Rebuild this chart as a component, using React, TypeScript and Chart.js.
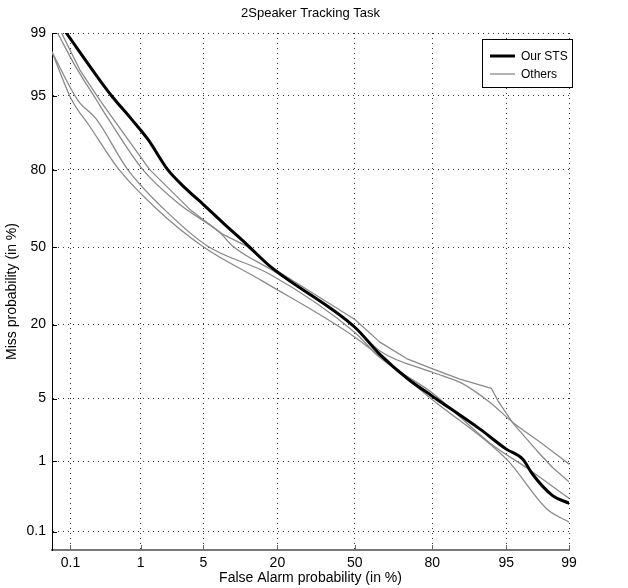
import React, { useEffect, useRef } from "react";
import { Chart, registerables } from "chart.js";

Chart.register(...registerables);

// ---- data (percent) ----
const chartTitle = "2Speaker Tracking Task";
const xTitle = "False Alarm probability (in %)";
const yTitle = "Miss probability (in %)";
const tickPercents = [0.1, 1, 5, 20, 50, 80, 95, 99];
const tickLabels = ["0.1", "1", "5", "20", "50", "80", "95", "99"];
const axisMinPercent = 0.05;
const axisMaxPercent = 99;
const legendLabels = ["Our STS", "Others"];

const stsFa = [0.086, 0.28, 0.41, 0.77, 1.23, 2.1, 3.4, 5.0, 7.6, 12.0, 17.8, 50, 60.7, 71.8, 79.9, 91.3, 95.0, 96.6, 97.3, 98.4, 99.0];
const stsMiss = [99.0, 96.5, 95.0, 91.7, 87.9, 80, 73.4, 67.8, 60.4, 51.2, 41.8, 19.2, 12.2, 7.6, 5.3, 2.4, 1.41, 1.06, 0.69, 0.35, 0.27];

const otherAFa = [0.072, 0.14, 0.28, 0.44, 1.29, 3.65, 7.6, 12.0, 17.8, 50, 60.7, 71.3, 80.3, 87.3, 93.1, 94.0, 95.7, 97.6, 98.4, 99];
const otherAMiss = [99, 97.3, 94.5, 91.7, 80, 65.9, 55.5, 50.4, 41.8, 21.6, 15.1, 11.3, 9.25, 7.57, 6.23, 4.75, 2.79, 1.35, 0.84, 0.54];

const otherBFa = [0.062, 0.117, 0.25, 0.375, 1.06, 2.86, 7.1, 9.25, 20, 50, 60.7, 80.2, 87.7, 92.9, 95.7, 97.8, 99];
const otherBMiss = [99, 97.6, 94.5, 91.7, 80, 67.8, 56.3, 50.4, 38.8, 19.2, 12.97, 8.66, 6.97, 4.57, 2.84, 1.7, 0.92];

const otherCFa = [0.05, 0.13, 0.252, 0.68, 2.2, 5.5, 17.8, 50, 60.7, 80.2, 92.9, 97.1, 99];
const otherCMiss = [98.3, 94.5, 91.7, 80, 63.9, 50.4, 38.4, 17.7, 11.5, 5.6, 1.66, 0.78, 0.318];

const otherDFa = [0.05, 0.105, 0.199, 0.52, 1.6, 4.93, 15.9, 50, 80.2, 95.1, 98.15, 99];
const otherDMiss = [98.3, 94.5, 90.5, 80.0, 65.8, 50.3, 35.5, 16.4, 4.8, 1.04, 0.222, 0.141];

// inverse normal CDF (Acklam)
function probit(p: number): number {
  const a = [-3.969683028665376e1, 2.209460984245205e2, -2.759285104469687e2, 1.38357751867269e2, -3.066479806614716e1, 2.506628277459239];
  const b = [-5.447609879822406e1, 1.615858368580409e2, -1.556989798598866e2, 6.680131188771972e1, -1.328068155288572e1];
  const c = [-7.784894002430293e-3, -3.223964580411365e-1, -2.400758277161838, -2.549732539343734, 4.374664141464968, 2.938163982698783];
  const d = [7.784695709041462e-3, 3.224671290700398e-1, 2.445134137142996, 3.754408661907416];
  const pl = 0.02425;
  if (p < pl) {
    const q = Math.sqrt(-2 * Math.log(p));
    return (((((c[0] * q + c[1]) * q + c[2]) * q + c[3]) * q + c[4]) * q + c[5]) / ((((d[0] * q + d[1]) * q + d[2]) * q + d[3]) * q + 1);
  }
  if (p <= 1 - pl) {
    const q = p - 0.5;
    const r = q * q;
    return ((((((a[0] * r + a[1]) * r + a[2]) * r + a[3]) * r + a[4]) * r + a[5]) * q) / (((((b[0] * r + b[1]) * r + b[2]) * r + b[3]) * r + b[4]) * r + 1);
  }
  const q = Math.sqrt(-2 * Math.log(1 - p));
  return -(((((c[0] * q + c[1]) * q + c[2]) * q + c[3]) * q + c[4]) * q + c[5]) / ((((d[0] * q + d[1]) * q + d[2]) * q + d[3]) * q + 1);
}

const toPoints = (fa: number[], miss: number[]) =>
  fa.map((f, i) => ({ x: probit(f / 100), y: probit(miss[i] / 100) }));

const FONT = "'Liberation Sans', Arial, Helvetica, sans-serif";
const GRAY = "#8a8a8a";

const detDecor = {
  id: "detDecor",
  afterDraw(chart: any) {
    const { ctx, chartArea } = chart;
    const xs = chart.scales.x;
    const ys = chart.scales.y;
    ctx.save();
    // title centred over the plot
    ctx.fillStyle = "#000";
    ctx.font = `13px ${FONT}`;
    ctx.textAlign = "center";
    ctx.textBaseline = "middle";
    ctx.fillText(chartTitle, (chartArea.left + chartArea.right) / 2, 13);
    // inward tick marks
    ctx.lineWidth = 1;
    ctx.strokeStyle = "#666";
    xs.ticks.forEach((t: any) => {
      const px = Math.round(xs.getPixelForValue(t.value)) + 0.5;
      ctx.beginPath();
      ctx.moveTo(px, chartArea.bottom);
      ctx.lineTo(px, chartArea.bottom - 5);
      ctx.stroke();
    });
    ctx.strokeStyle = "#000";
    ys.ticks.forEach((t: any) => {
      const py = Math.round(ys.getPixelForValue(t.value)) + 0.5;
      ctx.beginPath();
      ctx.moveTo(chartArea.left, py);
      ctx.lineTo(chartArea.left + 5, py);
      ctx.stroke();
    });
    // legend
    const ds = chart.data.datasets;
    const bx = chartArea.right - 87;
    const by = chartArea.top + 6;
    const bw = 90;
    const bh = 48;
    ctx.fillStyle = "#fff";
    ctx.fillRect(bx, by, bw, bh);
    ctx.strokeStyle = "#000";
    ctx.lineWidth = 1;
    ctx.strokeRect(bx + 0.5, by + 0.5, bw, bh);
    [ds[0], ds[1]].forEach((d: any, i: number) => {
      const ry = by + 17 + i * 18;
      ctx.strokeStyle = d.borderColor;
      ctx.lineWidth = d.borderWidth;
      ctx.beginPath();
      ctx.moveTo(bx + 8, ry);
      ctx.lineTo(bx + 33, ry);
      ctx.stroke();
      ctx.fillStyle = "#000";
      ctx.font = `12px ${FONT}`;
      ctx.textBaseline = "middle";
      ctx.textAlign = "left";
      ctx.fillText(legendLabels[i], bx + 39, ry + 1);
    });
    ctx.restore();
  },
};

export default function App() {
  const ref = useRef<HTMLCanvasElement | null>(null);
  useEffect(() => {
    if (!ref.current) return;
    const tickValues = tickPercents.map((p) => probit(p / 100));
    const mkScale = (axisTitle: string, isX: boolean) => ({
      type: "linear" as const,
      min: probit(axisMinPercent / 100),
      max: probit(axisMaxPercent / 100),
      afterBuildTicks: (s: any) => {
        s.ticks = tickValues.map((v) => ({ value: v }));
      },
      afterFit: (s: any) => {
        if (isX) s.height = 38;
        else s.width = 52;
      },
      ticks: {
        autoSkip: false,
        maxRotation: 0,
        padding: isX ? 5 : 6,
        color: "#000",
        font: { family: FONT, size: 14 },
        callback: (_v: any, i: number) => tickLabels[i],
      },
      grid: {
        drawTicks: false,
        color: "#333",
        lineWidth: 1,
      },
      border: {
        display: true,
        color: isX ? "#777" : "#000",
        width: isX ? 2 : 1,
        dash: [1, 4],
      },
      title: {
        display: true,
        text: axisTitle,
        color: "#000",
        font: { family: FONT, size: 14 },
        padding: isX ? { top: 0, bottom: 1 } : { top: 4, bottom: 0 },
      },
    });
    const smooth = { pointRadius: 0, cubicInterpolationMode: "monotone", borderJoinStyle: "round", borderCapStyle: "round" };
    const straight = { pointRadius: 0, tension: 0, borderJoinStyle: "round", borderCapStyle: "round" };
    const chart = new Chart(ref.current, {
      type: "line",
      data: {
        datasets: [
          { label: legendLabels[0], data: toPoints(stsFa, stsMiss), borderColor: "#000", borderWidth: 3, ...smooth },
          { label: legendLabels[1], data: toPoints(otherAFa, otherAMiss), borderColor: GRAY, borderWidth: 1.3, ...straight },
          { label: legendLabels[1], data: toPoints(otherBFa, otherBMiss), borderColor: GRAY, borderWidth: 1.3, ...smooth },
          { label: legendLabels[1], data: toPoints(otherCFa, otherCMiss), borderColor: GRAY, borderWidth: 1.3, ...smooth },
          { label: legendLabels[1], data: toPoints(otherDFa, otherDMiss), borderColor: GRAY, borderWidth: 1.3, ...smooth },
        ],
      },
      options: {
        animation: false,
        responsive: false,
        parsing: false,
        layout: { padding: { top: 33, right: 59, left: 0, bottom: 0 } },
        scales: {
          x: mkScale(xTitle, true),
          y: mkScale(yTitle, false),
        },
        plugins: {
          legend: { display: false },
          tooltip: { enabled: false },
          title: { display: false },
        },
      },
      plugins: [detDecor],
    } as any);
    return () => chart.destroy();
  }, []);
  return (
    <div style={{ position: "fixed", left: 0, top: 0, width: 628, height: 588, background: "#fff" }}>
      <canvas ref={ref} width={628} height={588} style={{ width: 628, height: 588 }} />
    </div>
  );
}
